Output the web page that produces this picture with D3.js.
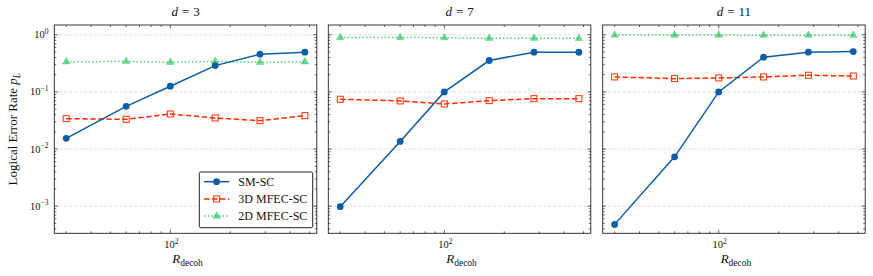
<!DOCTYPE html>
<html>
<head>
<meta charset="utf-8">
<script src="https://cdn.jsdelivr.net/npm/d3@7"></script>
<style>
  body { margin: 0; background: #fff; }
  svg text { font-family: "Liberation Serif", "Times New Roman", "DejaVu Serif", serif; }
</style>
</head>
<body>
<svg id="chart"></svg>
<script>
// values
const rDecoh = [30, 60, 100, 168, 282, 474];
const distances = [3, 7, 11];
const seriesNames = ["SM-SC", "3D MFEC-SC", "2D MFEC-SC"];

const smSC = [
  [0.0154, 0.056, 0.126, 0.289, 0.458, 0.497],
  [0.00098, 0.0136, 0.1, 0.355, 0.497, 0.495],
  [0.00048, 0.0073, 0.1, 0.406, 0.497, 0.51]
];
const mfec3D = [
  [0.034, 0.0332, 0.0411, 0.035, 0.0314, 0.0384],
  [0.0745, 0.0696, 0.0616, 0.0704, 0.0763, 0.0763],
  [0.183, 0.171, 0.176, 0.183, 0.196, 0.19]
];
const mfec2D = [
  [0.336, 0.342, 0.33, 0.342, 0.33, 0.336],
  [0.897, 0.897, 0.89, 0.87, 0.87, 0.87],
  [0.99, 0.99, 0.99, 0.985, 0.985, 0.985]
];
const yTicks = [1, 0.1, 0.01, 0.001];
const yTickExp = ["0", "\u22121", "\u22122", "\u22123"];

const width = 873;
const height = 276;
const panelLeft = [54.3, 328.3, 602.7];
const panelW = 262.5;
const plotTop = 25;
const plotBottom = 233.3;
const serif = "'Liberation Serif', 'Times New Roman', 'DejaVu Serif', serif";

const colors = { sm: "#0C5DA5", d3d: "#FF2C00", d2d: "#00B945" };

const svg = d3.select("#chart").attr("width", width).attr("height", height)
  .attr("font-family", serif);

const lx = Math.log10(rDecoh[rDecoh.length - 1] / rDecoh[0]) * 0.05;
const xDomain = [rDecoh[0] / Math.pow(10, lx), rDecoh[rDecoh.length - 1] * Math.pow(10, lx)];
const yScale = d3.scaleLog().domain([Math.pow(10, -3.475), Math.pow(10, 0.172)]).range([plotBottom, plotTop]);

const minorX = [];
for (let d = 10; d <= 1000; d *= 10) for (let k = 2; k <= 9; k++) minorX.push(d * k);
const minorY = [];
for (let d = 0.0001; d <= 1; d *= 10) for (let k = 2; k <= 9; k++) minorY.push(d * k);

const makeSeries = (i) => [
  { key: "sm", values: smSC[i] },
  { key: "d3d", values: mfec3D[i] },
  { key: "d2d", values: mfec2D[i] }
];

const drawPanel = (i) => {
  const x0 = panelLeft[i];
  const xScale = d3.scaleLog().domain(xDomain).range([x0, x0 + panelW]);
  const g = svg.append("g");
  const inX = (v) => v >= xDomain[0] && v <= xDomain[1];
  const inY = (v) => v >= yScale.domain()[0] && v <= yScale.domain()[1];

  // grid
  g.selectAll(".grid").data(yTicks).enter().append("line")
    .attr("x1", x0).attr("x2", x0 + panelW)
    .attr("y1", (d) => yScale(d)).attr("y2", (d) => yScale(d))
    .attr("stroke", "#c8c8c8").attr("stroke-width", 0.6).attr("stroke-dasharray", "3,2");

  // inward ticks on all four sides
  const tickLen = { major: 3.5, minor: 2 };
  [[ [100], "major"], [minorX.filter((v) => v !== 100).filter(inX), "minor"]].forEach(([vals, kind]) => {
    const L = tickLen[kind];
    vals.forEach((v) => {
      const xx = xScale(v);
      g.append("line").attr("x1", xx).attr("x2", xx).attr("y1", plotBottom).attr("y2", plotBottom - L).attr("stroke", "#222").attr("stroke-width", 0.7);
      g.append("line").attr("x1", xx).attr("x2", xx).attr("y1", plotTop).attr("y2", plotTop + L).attr("stroke", "#222").attr("stroke-width", 0.7);
    });
  });
  [[yTicks, "major"], [minorY.filter(inY), "minor"]].forEach(([vals, kind]) => {
    const L = tickLen[kind];
    vals.forEach((v) => {
      const yy = yScale(v);
      g.append("line").attr("x1", x0).attr("x2", x0 + L).attr("y1", yy).attr("y2", yy).attr("stroke", "#222").attr("stroke-width", 0.7);
      g.append("line").attr("x1", x0 + panelW).attr("x2", x0 + panelW - L).attr("y1", yy).attr("y2", yy).attr("stroke", "#222").attr("stroke-width", 0.7);
    });
  });

  // series
  const line = d3.line().x((d, j) => xScale(rDecoh[j])).y((d) => yScale(d));
  const series = makeSeries(i);

  // 2D MFEC-SC: dotted green, triangles
  g.append("path").attr("d", line(series[2].values)).attr("fill", "none")
    .attr("stroke", colors.d2d).attr("stroke-opacity", 0.7).attr("stroke-width", 1.5).attr("stroke-dasharray", "1.5,2.2");
  const tri = d3.symbol().type(d3.symbolTriangle).size(24);
  g.selectAll(".tri").data(series[2].values).enter().append("path")
    .attr("d", tri)
    .attr("transform", (d, j) => `translate(${xScale(rDecoh[j])},${yScale(d)})`)
    .attr("fill", colors.d2d).attr("fill-opacity", 0.55)
    .attr("stroke", colors.d2d).attr("stroke-opacity", 0.5).attr("stroke-width", 0.6);

  // 3D MFEC-SC: dashed red, open squares
  g.append("path").attr("d", line(series[1].values)).attr("fill", "none")
    .attr("stroke", colors.d3d).attr("stroke-width", 1.5).attr("stroke-dasharray", "5.5,2.5");
  g.selectAll(".sq").data(series[1].values).enter().append("rect")
    .attr("x", (d, j) => xScale(rDecoh[j]) - 3).attr("y", (d) => yScale(d) - 3)
    .attr("width", 6).attr("height", 6)
    .attr("fill", "none").attr("stroke", colors.d3d).attr("stroke-width", 1);

  // SM-SC: solid blue, filled circles
  g.append("path").attr("d", line(series[0].values)).attr("fill", "none")
    .attr("stroke", colors.sm).attr("stroke-width", 1.5);
  g.selectAll(".dot").data(series[0].values).enter().append("circle")
    .attr("cx", (d, j) => xScale(rDecoh[j])).attr("cy", (d) => yScale(d))
    .attr("r", 3.4).attr("fill", colors.sm);

  // frame
  g.append("rect").attr("x", x0).attr("y", plotTop).attr("width", panelW).attr("height", plotBottom - plotTop)
    .attr("fill", "none").attr("stroke", "#222").attr("stroke-width", 0.9);

  // x tick label
  const xl = g.append("text").attr("x", xScale(100) + 1).attr("y", 248).attr("text-anchor", "middle")
    .attr("font-size", 10.5).attr("fill", "#111");
  xl.append("tspan").text("10");
  xl.append("tspan").attr("font-size", 7.5).attr("dy", -4.5).text("2");

  // x axis label
  const cx = x0 + panelW / 2;
  const xt = g.append("text").attr("x", cx + 2).attr("y", 263).attr("text-anchor", "middle")
    .attr("font-size", 13).attr("fill", "#111");
  xt.append("tspan").attr("font-style", "italic").text("R");
  xt.append("tspan").attr("font-size", 9.5).attr("dy", 2.5).text("decoh");

  // title
  const tt = g.append("text").attr("x", cx).attr("y", 16).attr("text-anchor", "middle")
    .attr("font-size", 13).attr("fill", "#111");
  tt.append("tspan").attr("font-style", "italic").text("d");
  tt.append("tspan").attr("dx", 4).text("=");
  tt.append("tspan").attr("dx", 4).text(distances[i]);

  // y tick labels on first panel only
  if (i === 0) {
    yTicks.forEach((v, k) => {
      const t = g.append("text").attr("x", 48.5).attr("y", yScale(v) + 3.5).attr("text-anchor", "end")
        .attr("font-size", 10.5).attr("fill", "#111");
      t.append("tspan").text("10");
      t.append("tspan").attr("font-size", 7.5).attr("dy", -4.5).text(yTickExp[k]);
    });
  }
  return xScale;
};

distances.forEach((d, i) => drawPanel(i));

// y axis label
const yl = svg.append("text").attr("transform", `translate(17,${(plotTop + plotBottom) / 2}) rotate(-90)`)
  .attr("text-anchor", "middle").attr("font-size", 13).attr("fill", "#111");
yl.append("tspan").text("Logical Error Rate ");
yl.append("tspan").attr("font-style", "italic").text("p");
yl.append("tspan").attr("font-style", "italic").attr("font-size", 9.5).attr("dy", 2.5).text("L");

// legend in first panel
const lg = svg.append("g").attr("transform", "translate(199.3,172)");
lg.append("rect").attr("width", 113.4).attr("height", 55.7).attr("rx", 1.5)
  .attr("fill", "#fff").attr("stroke", "#222").attr("stroke-width", 1);
const legendRows = [
  { name: seriesNames[0], color: colors.sm, dash: null, mark: "circle" },
  { name: seriesNames[1], color: colors.d3d, dash: "5.5,2.5", mark: "square" },
  { name: seriesNames[2], color: colors.d2d, dash: "1.5,2.2", mark: "triangle" }
];
legendRows.forEach((r, k) => {
  const yy = 9.7 + k * 17.2;
  lg.append("line").attr("x1", 4.7).attr("x2", 30).attr("y1", yy).attr("y2", yy)
    .attr("stroke", r.color).attr("stroke-width", 1.5)
    .attr("stroke-opacity", r.mark === "triangle" ? 0.7 : 1)
    .attr("stroke-dasharray", r.dash);
  if (r.mark === "circle") {
    lg.append("circle").attr("cx", 17.3).attr("cy", yy).attr("r", 3.4).attr("fill", r.color);
  } else if (r.mark === "square") {
    lg.append("rect").attr("x", 14.3).attr("y", yy - 3).attr("width", 6).attr("height", 6)
      .attr("fill", "none").attr("stroke", r.color).attr("stroke-width", 1);
  } else {
    lg.append("path").attr("d", d3.symbol().type(d3.symbolTriangle).size(24)())
      .attr("transform", `translate(17.3,${yy})`)
      .attr("fill", r.color).attr("fill-opacity", 0.55)
      .attr("stroke", r.color).attr("stroke-opacity", 0.5).attr("stroke-width", 0.6);
  }
  lg.append("text").attr("x", 39).attr("y", yy + 4).attr("font-size", 12).attr("fill", "#111").text(r.name);
});
</script>
</body>
</html>
